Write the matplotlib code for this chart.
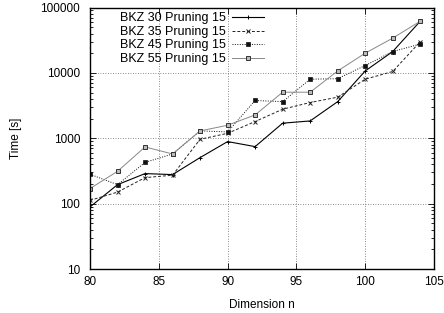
import matplotlib
matplotlib.use("Agg")
import matplotlib.pyplot as plt
from matplotlib.ticker import LogLocator, NullFormatter, FixedLocator

plt.rcParams['font.family'] = ['Liberation Sans', 'DejaVu Sans']
plt.rcParams['font.size'] = 8.5

# dimensions n
dims = [80, 82, 84, 86, 88, 90, 92, 94, 96, 98, 100, 102, 104]

# timings in seconds
bkz30 = [89, 195, 288, 278, 506, 889, 745, 1700, 1840, 3630, 10700, 21200, 61700]
bkz35 = [112, 150, 250, 272, 965, 1190, 1800, 2780, 3520, 4250, 8000, 10500, 30000]
bkz45 = [281, 195, 427, 575, 1295, 1250, 3780, 3630, 8000, 8150, 12950, 21200, 27600]
bkz55 = [170, 312, 736, 575, 1295, 1580, 2276, 5060, 5060, 10700, 20000, 34000, 61700]

labels = ['BKZ 30 Pruning 15', 'BKZ 35 Pruning 15',
          'BKZ 45 Pruning 15', 'BKZ 55 Pruning 15']

fig = plt.figure(figsize=(4.44, 3.13), dpi=100)
ax = fig.add_axes([90/444, 1 - 269/313, (434 - 90)/444, (269 - 7.5)/313])

ax.plot(dims, bkz30, color='black', lw=0.8, ls='-', marker='+', ms=3.5, mew=0.7,
        label=labels[0])
ax.plot(dims, bkz35, color='#222222', lw=0.7, ls=(0, (3, 2)), marker='x', ms=3, mew=0.7,
        label=labels[1])
ax.plot(dims, bkz45, color='#111111', lw=0.7, ls=(0, (1, 1.5)), marker='s', ms=2.6, mew=0.5,
        label=labels[2])
ax.plot(dims, bkz55, color='#888888', lw=0.7, ls='-', marker='s', ms=3.4, mew=0.7,
        mfc='#bbbbbb', mec='#333333', label=labels[3])

ax.set_yscale('log')
ax.set_xlim(80, 105)
ax.set_ylim(10, 100000)
ax.xaxis.set_major_locator(FixedLocator([80, 85, 90, 95, 100, 105]))
ax.yaxis.set_minor_locator(LogLocator(base=10, subs=range(2, 10), numticks=20))
ax.yaxis.set_minor_formatter(NullFormatter())
ax.set_yticks([10, 100, 1000, 10000, 100000])
ax.set_yticklabels(['10', '100', '1000', '10000', '100000'])

ax.tick_params(which='both', direction='in', top=True, right=True, width=0.6)
ax.tick_params(which='major', length=4)
ax.tick_params(which='minor', length=2)
ax.tick_params(axis='x', pad=5)
ax.tick_params(axis='y', pad=7)

ax.grid(True, which='major', ls=(0, (1, 2)), color='#666666', lw=0.6)
for s in ax.spines.values():
    s.set_linewidth(1.0)

ax.set_xlabel('Dimension n', labelpad=8)
ax.set_ylabel('Time [s]', labelpad=13)

leg = ax.legend(loc='upper left', bbox_to_anchor=(0.065, 1.01), frameon=False,
                markerfirst=False, handlelength=2.6, handletextpad=0.5,
                labelspacing=0.12, borderaxespad=0.2, fontsize=9)

fig.savefig('out.png', dpi=100)
